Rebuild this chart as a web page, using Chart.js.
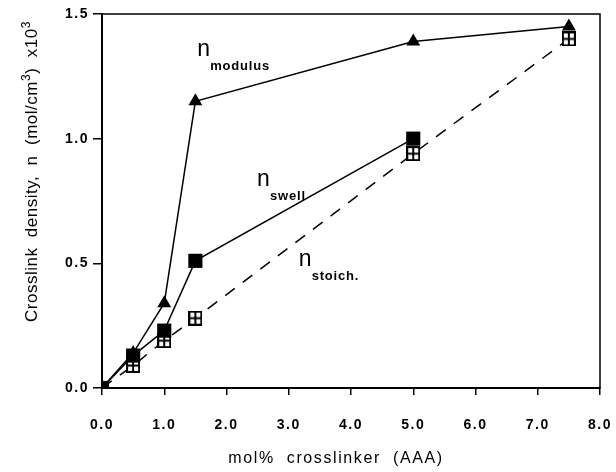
<!DOCTYPE html>
<html>
<head>
<meta charset="utf-8">
<script src="https://cdn.jsdelivr.net/npm/chart.js@4.4.1/dist/chart.umd.min.js"></script>
<style>
  html, body { margin: 0; padding: 0; background: #fff; }
  #wrap { width: 616px; height: 472px; }
</style>
</head>
<body>
<div id="wrap"><canvas id="mycanvas" width="616" height="472"></canvas></div>
<script>
// crosslinker content (mol% AAA)
var xCrosslinker = [0, 0.5, 1.0, 1.5, 5.0, 7.5];
var nModulus = [0, 0.14, 0.34, 1.15, 1.39, 1.45];
var nSwell = [0, 0.13, 0.23, 0.51, 1.00];
var nStoich = [0, 0.09, 0.19, 0.28, 0.94, 1.40];

var xTickLabels = ['0.0', '1.0', '2.0', '3.0', '4.0', '5.0', '6.0', '7.0', '8.0'];
var yTickLabels = ['0.0', '0.5', '1.0', '1.5'];

// curve labels: subscript names and anchor in data units
var curveNames = ['modulus', 'swell', 'stoich.'];
var labelX = [1.53, 2.49, 3.16];
var labelY = [1.33, 0.81, 0.49];

var FONT = '"Liberation Sans", Arial, sans-serif';

function pts(xs, ys) {
  var out = [];
  for (var i = 0; i < ys.length; i++) out.push({x: xs[i], y: ys[i]});
  return out;
}

// open square with a cross inside
function gridBox() {
  var c = document.createElement('canvas');
  c.width = 14; c.height = 15;
  var g = c.getContext('2d');
  g.fillStyle = '#fff';
  g.fillRect(1, 1, 12, 13);
  g.strokeStyle = '#000';
  g.lineWidth = 2;
  g.strokeRect(1, 1, 12, 13);
  g.beginPath();
  g.moveTo(7, 1); g.lineTo(7, 14);
  g.moveTo(1, 7.5); g.lineTo(13, 7.5);
  g.stroke();
  return c;
}

var boxPlugin = {
  id: 'box',
  afterDraw: function (chart) {
    var a = chart.chartArea, ctx = chart.ctx;
    ctx.save();
    ctx.letterSpacing = '0px';
    ctx.strokeStyle = '#000';
    ctx.lineWidth = 1.5;
    ctx.strokeRect(a.left, a.top, a.right - a.left, a.bottom - a.top);

    // axis titles
    ctx.fillStyle = '#000';
    ctx.textBaseline = 'middle';
    ctx.textAlign = 'center';
    ctx.font = '16px ' + FONT;
    ctx.letterSpacing = '1.6px';
    ctx.fillText('mol%  crosslinker  (AAA)', 336, 459);

    ctx.letterSpacing = '0.5px';
    ctx.translate(37, 322);
    ctx.rotate(-Math.PI / 2);
    ctx.textAlign = 'left';
    ctx.textBaseline = 'alphabetic';
    var parts = [['Crosslink  density,  n  (mol/cm', 0], ['3', 1], [')  x10', 0], ['3', 1]];
    var x = 0;
    for (var i = 0; i < parts.length; i++) {
      ctx.font = (parts[i][1] ? '12px ' : '17px ') + FONT;
      ctx.fillText(parts[i][0], x, parts[i][1] ? -7 : 0);
      x += ctx.measureText(parts[i][0]).width;
    }
    ctx.restore();
  }
};

var namePlugin = {
  id: 'names',
  afterDatasetsDraw: function (chart) {
    var ctx = chart.ctx, xs = chart.scales.x, ys = chart.scales.y;
    ctx.save();
    ctx.fillStyle = '#000';
    ctx.textBaseline = 'alphabetic';
    ctx.textAlign = 'left';
    for (var i = 0; i < curveNames.length; i++) {
      var px = xs.getPixelForValue(labelX[i]);
      var py = ys.getPixelForValue(labelY[i]);
      ctx.letterSpacing = '0px';
      ctx.font = '23px ' + FONT;
      ctx.fillText('n', px, py);
      ctx.font = 'bold 13px ' + FONT;
      ctx.letterSpacing = '0.8px';
      ctx.fillText(curveNames[i], px + 13, py + 14);
    }
    ctx.restore();
  }
};

// tick labels in the original are widely spaced
var spacing = {
  id: 'spacing',
  beforeDraw: function (chart) { chart.ctx.letterSpacing = '1.5px'; }
};

var ctx = document.getElementById('mycanvas');
var plot = new Chart(ctx, {
  type: 'scatter',
  data: {
    datasets: [
      {
        label: 'n stoich.',
        data: pts(xCrosslinker, nStoich),
        order: 2,
        showLine: true,
        borderColor: '#000',
        borderWidth: 1.5,
        borderDash: [12, 10],
        pointStyle: gridBox(),
        pointRadius: 7
      },
      {
        label: 'n swell',
        data: pts(xCrosslinker, nSwell),
        order: 0,
        showLine: true,
        borderColor: '#000',
        backgroundColor: '#000',
        borderWidth: 1.5,
        pointStyle: 'rect',
        pointRadius: 10,
        pointBorderWidth: 0
      },
      {
        label: 'n modulus',
        data: pts(xCrosslinker, nModulus),
        order: 1,
        showLine: true,
        borderColor: '#000',
        backgroundColor: '#000',
        borderWidth: 1.5,
        pointStyle: 'triangle',
        pointRadius: 8,
        pointBorderWidth: 0
      }
    ]
  },
  options: {
    responsive: false,
    animation: false,
    layout: { padding: { top: 14, right: 16, left: 0, bottom: 0 } },
    plugins: {
      legend: { display: false },
      tooltip: { enabled: false }
    },
    scales: {
      x: {
        type: 'linear',
        min: 0, max: 8,
        afterFit: function (s) { s.height = 84; s.paddingLeft = 0; s.paddingRight = 0; },
        ticks: {
          stepSize: 1,
          color: '#000',
          padding: 22,
          maxRotation: 0,
          font: { family: FONT, size: 14, weight: 'bold' },
          callback: function (v) { return xTickLabels[Math.round(v)]; }
        },
        grid: { display: true, drawOnChartArea: false, drawTicks: true, tickLength: 7, color: '#000', lineWidth: 1.5 },
        border: { display: true, color: '#000', width: 2 }
      },
      y: {
        type: 'linear',
        min: 0, max: 1.5,
        afterFit: function (s) { s.width = 102; },
        ticks: {
          stepSize: 0.5,
          color: '#000',
          padding: 4,
          font: { family: FONT, size: 14, weight: 'bold' },
          callback: function (v) { return yTickLabels[Math.round(v * 2)]; }
        },
        grid: { display: true, drawOnChartArea: false, drawTicks: true, tickLength: 9, color: '#000', lineWidth: 1.5 },
        border: { display: true, color: '#000', width: 2 }
      }
    }
  },
  plugins: [spacing, boxPlugin, namePlugin]
});
</script>
</body>
</html>
